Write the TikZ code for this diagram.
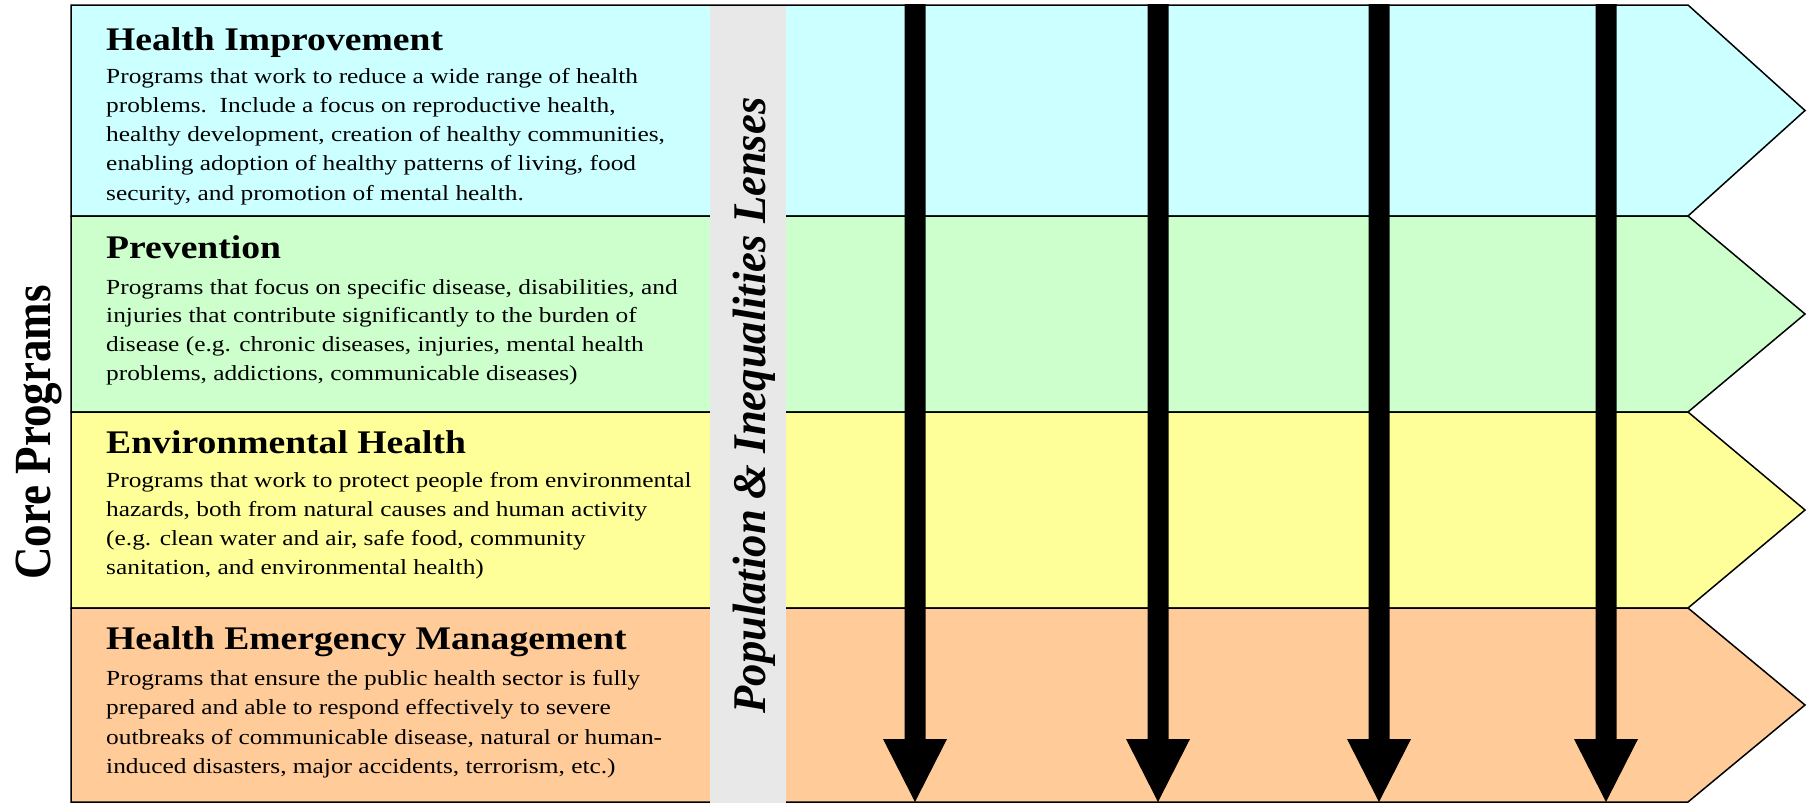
\documentclass[tikz,border=0pt]{standalone}
\usepackage{fontspec}
\setmainfont{Liberation Serif}
\usetikzlibrary{calc}
\definecolor{bandblue}{HTML}{CCFFFF}
\definecolor{bandgreen}{HTML}{CCFFCC}
\definecolor{bandyellow}{HTML}{FFFF99}
\definecolor{bandorange}{HTML}{FFCC99}
\definecolor{lensgrey}{HTML}{E8E8E8}
\begin{document}
\begin{tikzpicture}[x=1pt,y=-1pt,
  band/.style={draw=black, line width=1.5pt, line join=miter},
  titletxt/.style={anchor=base west, inner sep=0pt, font=\fontsize{33}{33}\selectfont\bfseries, xscale=1.14},
  bodytxt/.style={anchor=base west, inner sep=0pt, font=\fontsize{21.5}{21.5}\selectfont, xscale=1.18},
  sidetxt/.style={inner sep=0pt, anchor=base},
  bigarrow/.style={fill=black}]
\useasboundingbox (0,0) rectangle (1810,803);
% bands
\draw[band, fill=bandblue]   (71,5)   -- (1688,5)   -- (1805,110.5) -- (1688,216) -- (71,216) -- cycle;
\draw[band, fill=bandgreen]  (71,216) -- (1688,216) -- (1805,314)   -- (1688,412) -- (71,412) -- cycle;
\draw[band, fill=bandyellow] (71,412) -- (1688,412) -- (1805,510)   -- (1688,608) -- (71,608) -- cycle;
\draw[band, fill=bandorange] (71,608) -- (1688,608) -- (1805,705)   -- (1688,802) -- (71,802) -- cycle;
% lens band
\fill[lensgrey] (710,5.75) rectangle (786,803);
\node[sidetxt, font=\fontsize{44.6}{44.6}\selectfont\bfseries\itshape, xscale=1.05, rotate=90] (lens) at (765,405.5) {Population \& Inequalities Lenses};
% arrows
\foreach \n/\x in {1/915,2/1158,3/1379,4/1606}{
  \coordinate (at\n) at (\x,4);
  \coordinate (ab\n) at (\x,802);
  \fill[bigarrow] ($(at\n)+(-10.5,0)$) -- ($(at\n)+(10.5,0)$) -- ($(ab\n)+(10.5,-63)$) -- ($(ab\n)+(32,-63)$) -- (ab\n) -- ($(ab\n)+(-32,-63)$) -- ($(ab\n)+(-10.5,-63)$) -- cycle;
}
% side label
\node[sidetxt, font=\fontsize{45}{45}\selectfont\bfseries, xscale=1.16, rotate=90] (core) at (50,432.5) {Core Programs};
% band 1
\node[titletxt] (t1) at (106,50) {Health Improvement};
\node[bodytxt] (b11) at (106,83.3) {Programs that work to reduce a wide range of health};
\node[bodytxt] (b12) at (106,112.5) {problems.\ \ Include a focus on reproductive health,};
\node[bodytxt] (b13) at (106,141.7) {healthy development, creation of healthy communities,};
\node[bodytxt] (b14) at (106,170.9) {enabling adoption of healthy patterns of living, food};
\node[bodytxt] (b15) at (106,200.1) {security, and promotion of mental health.};
% band 2
\node[titletxt] (t2) at (106,258) {Prevention};
\node[bodytxt] (b21) at (106,294) {Programs that focus on specific disease, disabilities, and};
\node[bodytxt] (b22) at (106,322.7) {injuries that contribute significantly to the burden of};
\node[bodytxt] (b23) at (106,351.4) {disease (e.g. chronic diseases, injuries, mental health};
\node[bodytxt] (b24) at (106,380.1) {problems, addictions, communicable diseases)};
% band 3
\node[titletxt] (t3) at (106,453) {Environmental Health};
\node[bodytxt] (b31) at (106,487.3) {Programs that work to protect people from environmental};
\node[bodytxt] (b32) at (106,516.3) {hazards, both from natural causes and human activity};
\node[bodytxt] (b33) at (106,545.3) {(e.g. clean water and air, safe food, community};
\node[bodytxt] (b34) at (106,574.1) {sanitation, and environmental health)};
% band 4
\node[titletxt] (t4) at (106,649) {Health Emergency Management};
\node[bodytxt] (b41) at (106,685) {Programs that ensure the public health sector is fully};
\node[bodytxt] (b42) at (106,714.6) {prepared and able to respond effectively to severe};
\node[bodytxt] (b43) at (106,744) {outbreaks of communicable disease, natural or human-};
\node[bodytxt] (b44) at (106,773.2) {induced disasters, major accidents, terrorism, etc.)};
\end{tikzpicture}
\end{document}
